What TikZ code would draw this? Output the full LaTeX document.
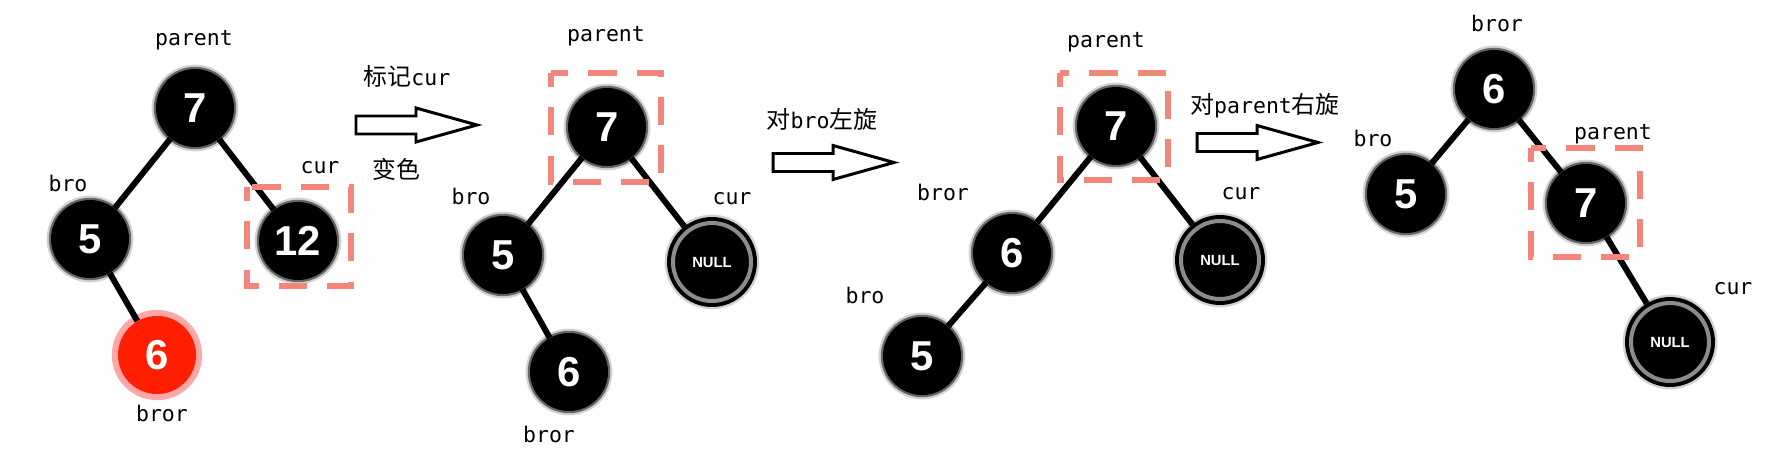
\documentclass[tikz,border=0pt]{standalone}
\usepackage{fontspec}
\setmainfont{Liberation Sans}
\newfontfamily\monofont{DejaVu Sans Mono}
\newfontfamily\cjkfont{Noto Sans CJK SC}
\definecolor{markred}{HTML}{F4857B}
\definecolor{nodered}{HTML}{FF1E00}
\newcommand\zh[1]{{\cjkfont\fontsize{13.6}{16}\selectfont #1}}

\tikzset{
  rbnode/.style={circle, fill=black, inner sep=0pt, minimum size=1.56cm,
    text=white, font=\fontsize{23.8}{26}\selectfont\bfseries,
    preaction={draw=black!35, line width=5pt, opacity=0.5},
    preaction={draw=black!60, line width=2.5pt}},
  rednode/.style={rbnode, fill=nodered, preaction={draw=red!35, line width=7pt}},
  nullnode/.style={circle, fill=black, draw=black!45, line width=2.3pt,
    inner sep=0pt, minimum size=1.56cm, outer sep=0.12cm,
    text=white, font=\fontsize{8.4}{10}\selectfont\bfseries,
    preaction={draw=black!35, line width=9.5pt, opacity=0.5},
    preaction={draw=black, line width=6.8pt}},
  link/.style={line width=3.4pt},
  lbl/.style={font=\monofont\fontsize{12.25}{14}\selectfont},
  markbox/.style={draw=markred, line width=3.4pt, dash pattern=on 16pt off 11.5pt, dash phase=8pt},
  blockarrow/.style={draw=black, line width=1.7pt, line join=miter}
}

\begin{document}
\begin{tikzpicture}[x=0.02cm, y=-0.02cm]
  \useasboundingbox (0,0) rectangle (1792,466);

  % first tree
  \node[rbnode] (A7) at (195,108) {7};
  \node[rbnode] (A5) at (90,239) {5};
  \node[rbnode] (A12) at (298,241) {12};
  \node[rednode] (A6) at (157,355) {6};
  \draw[link] (A7) -- (A5);
  \draw[link] (A7) -- (A12);
  \draw[link] (A5) -- (A6);
  \node[lbl] (Aparent) at (194,40) {parent};
  \node[lbl] (Abro) at (68,183) {bro};
  \node[lbl] (Acur) at (320,168) {cur};
  \node[lbl] (Abror) at (162,413) {bror};
  \draw[markbox] (247,187) rectangle (351,286);

  % second tree
  \node[rbnode] (B7) at (607,127) {7};
  \node[rbnode] (B5) at (503,255) {5};
  \node[nullnode] (BN) at (712,262) {NULL};
  \node[rbnode] (B6) at (569,372) {6};
  \draw[link] (B7) -- (B5);
  \draw[link] (B7) -- (BN);
  \draw[link] (B5) -- (B6);
  \node[lbl] (Bparent) at (606,36) {parent};
  \node[lbl] (Bbro) at (471,196) {bro};
  \node[lbl] (Bcur) at (732,199) {cur};
  \node[lbl] (Bbror) at (549,434) {bror};
  \draw[markbox] (551,73) rectangle (661,182);

  % third tree
  \node[rbnode] (C7) at (1116,126) {7};
  \node[rbnode] (C6) at (1012,253) {6};
  \node[rbnode] (C5) at (922,356) {5};
  \node[nullnode] (CN) at (1220,260) {NULL};
  \draw[link] (C7) -- (C6);
  \draw[link] (C6) -- (C5);
  \draw[link] (C7) -- (CN);
  \node[lbl] (Cparent) at (1106,42) {parent};
  \node[lbl] (Cbror) at (943,192) {bror};
  \node[lbl] (Cbro) at (865,295) {bro};
  \node[lbl] (Ccur) at (1241,194) {cur};
  \draw[markbox] (1060,73) rectangle (1168,180);

  % fourth tree
  \node[rbnode] (D6) at (1494,89) {6};
  \node[rbnode] (D5) at (1406,194) {5};
  \node[rbnode] (D7) at (1586,203) {7};
  \node[nullnode] (DN) at (1670,342) {NULL};
  \draw[link] (D6) -- (D5);
  \draw[link] (D6) -- (D7);
  \draw[link] (D7) -- (DN);
  \node[lbl] (Dbror) at (1497,23) {bror};
  \node[lbl] (Dbro) at (1373,138) {bro};
  \node[lbl] (Dparent) at (1613,134) {parent};
  \node[lbl] (Dcur) at (1733,289) {cur};
  \draw[markbox] (1531,148) rectangle (1640,257);

  % steps
  \foreach \ax/\ay in {356/125, 773/162.5, 1197/142.5} {
    \draw[blockarrow] (\ax,\ay-9) -- ++(60,0) -- ++(0,-8) -- (\ax+121,\ay)
      -- (\ax+60,\ay+17) -- ++(0,-8) -- (\ax,\ay+9) -- cycle;
  }
  \node[lbl] (step1) at (407,76) {\zh{标记}cur};
  \node[lbl] (step1b) at (396,169) {\zh{变色}};
  \node[lbl] (step2) at (822,119) {\zh{对}bro\zh{左旋}};
  \node[lbl] (step3) at (1265,106) {\zh{对}parent\zh{右旋}};
\end{tikzpicture}
\end{document}
